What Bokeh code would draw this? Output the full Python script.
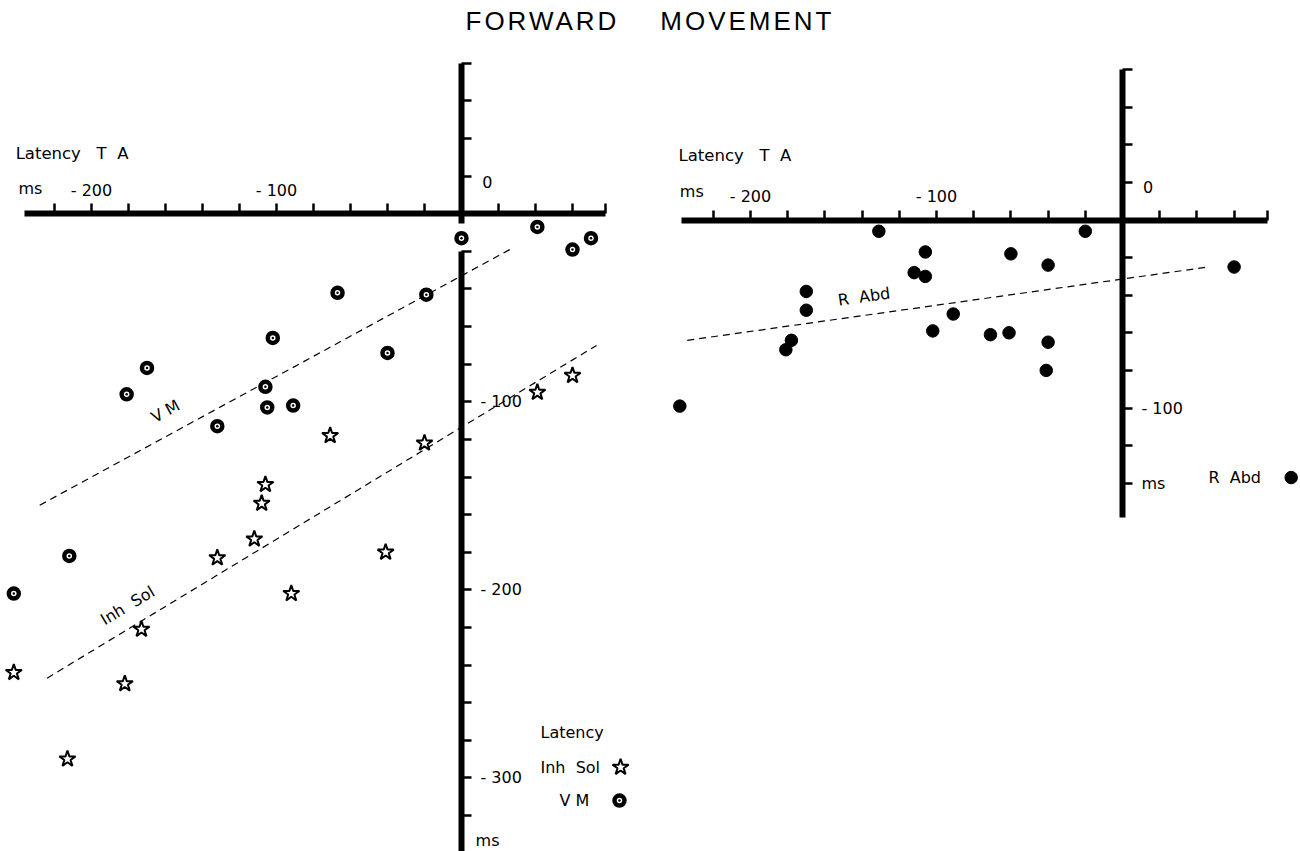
from bokeh.plotting import figure
from bokeh.models import Range1d, LinearAxis, FixedTicker, Div
from bokeh.layouts import column, row
from bokeh.embed import file_html
from bokeh.resources import INLINE
from bokeh.core.properties import value

# ---------------- data (ms) ----------------
# Left panel: latency of TA (x) vs latency of VM (circles) and Inh Sol (stars)
vm_ta = [0, 41, 60, 70, -67, -19, -102, -40, -170, -181, -106, -105, -91, -132, -212, -242]
vm_lat = [-13, -7, -19, -13, -42, -43, -66, -74, -82, -96, -92, -103, -102, -113, -182, -202]
inh_ta = [41, 60, -71, -20, -106, -108, -112, -132, -41, -92, -173, -242, -182, -213]
inh_lat = [-95, -86, -118, -122, -144, -154, -173, -183, -180, -202, -221, -244, -250, -290]
vm_fit_ta = [-228, 28]
vm_fit_lat = [-155, -18]
inh_fit_ta = [-224, 73]
inh_fit_lat = [-247, -70]

# Right panel: latency of TA (x) vs latency of R Abd (dots)
rabd_ta = [-131, -20, -106, -60, -40, -112, -106, -170, -170, -91, -102, -71, -61, -40,
           -178, -181, -41, -238, 60]
rabd_lat = [-6, -6, -17, -18, -24, -28, -30, -38, -48, -50, -59, -61, -60, -65,
            -64, -69, -80, -99, -25]
rabd_fit_ta = [-234, 46]
rabd_fit_lat = [-64, -25]

# axis ticks
left_x_ticks = [-220, -200, -180, -160, -140, -120, -100, -80, -60, -40, -20, 20, 40, 60, 78]
left_y_ticks_up = [20, 40, 60, 80]
left_y_ticks_down = [-20, -40, -60, -80, -100, -120, -140, -160, -180, -200, -220, -240,
                     -260, -280, -300, -320]
right_x_ticks = [-220, -200, -180, -160, -140, -120, -100, -80, -60, -40, -20, 20, 40, 60, 78]
right_y_ticks = [80, 60, 40, 20, -20, -40, -60, -80, -100, -120, -140]
x_tick_labels = {-200: "- 200", -100: "- 100"}
left_y_tick_labels = {-100: "- 100", -200: "- 200", -300: "- 300"}
right_y_tick_labels = {-100: "- 100", -140: "ms"}

NB = "\u00a0"
header_label = "Latency" + NB * 3 + "T" + NB * 2 + "A"

FONT = "DejaVu Sans"
FS = "16px"


def make_fig(w, xr, yr):
    p = figure(width=w, height=801, x_range=Range1d(*xr), y_range=Range1d(*yr),
               x_axis_type=None, y_axis_type=None, toolbar_location=None,
               output_backend="svg", min_border=0, outline_line_color=None,
               background_fill_color="white", border_fill_color="white")
    p.grid.visible = False
    return p


def overrides(ticks, labels):
    d = {t: "" for t in ticks}
    d.update(labels)
    return d


def add_axis(p, side, ticks, bounds, labels, standoff):
    ax = LinearAxis(fixed_location=0, bounds=bounds, ticker=FixedTicker(ticks=ticks),
                    major_label_overrides=overrides(ticks, labels),
                    axis_line_width=6, axis_line_color="black",
                    major_tick_line_width=2.5, major_tick_line_color="black",
                    major_tick_in=0, major_tick_out=10,
                    minor_tick_line_color=None,
                    major_label_text_font=FONT, major_label_text_font_size=FS,
                    major_label_text_color="black",
                    major_label_standoff=standoff)
    p.add_layout(ax, side)


def texts(p, xs, ys, labels, align="left", angle=0.0, size=FS):
    p.text(x=xs, y=ys, text=labels, text_font=value(FONT), text_font_size=size,
           text_align=align, text_baseline="middle", text_color="black", angle=angle)


def vm_marks(p, xs, ys):
    p.scatter(xs, ys, marker="circle_dot", size=10, line_width=4.5,
              fill_color="white", line_color="black")


def star_marks(p, xs, ys):
    p.scatter(xs, ys, marker="star", size=17, line_width=2,
              fill_color="white", line_color="black")


# ---------------- left panel ----------------
left = make_fig(640, (-249.19, 96.76), (-339.2, 86.86))
add_axis(left, "above", left_x_ticks, (-236, 78), x_tick_labels, 4)
add_axis(left, "right", left_y_ticks_up, (-5, 80), {}, 9)
add_axis(left, "right", left_y_ticks_down, (-339, -20), left_y_tick_labels, 9)

left.line(vm_fit_ta, vm_fit_lat, line_dash="7 5", line_width=1.2, line_color="black")
left.line(inh_fit_ta, inh_fit_lat, line_dash="7 5", line_width=1.2, line_color="black")
star_marks(left, inh_ta, inh_lat)
vm_marks(left, vm_ta, vm_lat)

texts(left, [-241], [32.2], [header_label], size="16.5px")
texts(left, [-239.5, 7.6], [13.5, -333.2], ["ms", "ms"])
texts(left, [14], [17], ["0"], align="center")
texts(left, [-160], [-105], ["V" + NB + "M"], align="center", angle=0.5)
texts(left, [-180.5], [-208.4], ["Inh" + NB + NB + "Sol"], align="center", angle=0.54)
# legend
texts(left, [42.7, 42.7, 53], [-276, -294.4, -312.1],
      ["Latency", "Inh" + NB + NB + "Sol", "V" + NB + "M"])
star_marks(left, [86], [-294.4])
vm_marks(left, [85.4], [-312.1])

# ---------------- right panel ----------------
right = make_fig(660, (-259.14, 95.70), (-335.9, 90.16))
add_axis(right, "above", right_x_ticks, (-237, 78), x_tick_labels, 4)
add_axis(right, "right", right_y_ticks, (-158, 80), right_y_tick_labels, 9)

right.line(rabd_fit_ta, rabd_fit_lat, line_dash="7 5", line_width=1.2, line_color="black")
right.scatter(rabd_ta, rabd_lat, marker="circle", size=12.5,
              fill_color="black", line_color="black")

texts(right, [-238.7], [34.3], [header_label], size="16.5px")
texts(right, [-238], [15.2], ["ms"])
texts(right, [13.8], [17.4], ["0"], align="center")
texts(right, [-139], [-40.7], ["R" + NB + NB + "Abd"], align="center", angle=0.14)
texts(right, [46.2], [-136.8], ["R" + NB + NB + "Abd"])
right.scatter([90.7], [-137], marker="circle", size=12.5,
              fill_color="black", line_color="black")

title = Div(text=('<div style="font-family:\'Liberation Sans\',Arial,sans-serif;'
                  'font-size:26px;letter-spacing:3px;text-align:center;width:1300px;'
                  'padding-top:6px;line-height:30px;color:black;">'
                  'FORWARD&nbsp;&nbsp;&nbsp;&nbsp;MOVEMENT</div>'),
            width=1300, height=50, margin=(0, 0, 0, 0))

layout = column(title, row(left, right, spacing=0), spacing=0)

open("out.html", "w").write(file_html(layout, INLINE))
